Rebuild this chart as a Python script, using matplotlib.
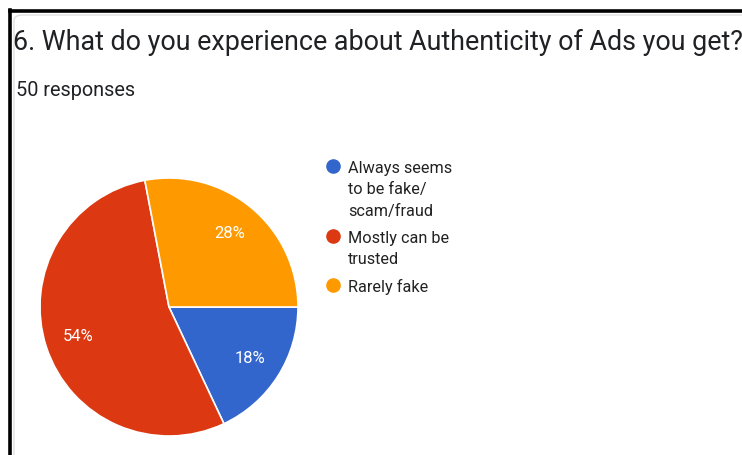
import matplotlib.pyplot as plt
from matplotlib.lines import Line2D
from matplotlib.patches import FancyBboxPatch

plt.rcParams["font.family"] = ["Roboto", "DejaVu Sans"]

# survey answers, in drawing order (clockwise from 3 o'clock)
labels = ["Always seems\nto be fake/\nscam/fraud", "Mostly can be\ntrusted", "Rarely fake"]
shares = [18, 54, 28]
colors = ["#3366CC", "#DC3912", "#FF9900"]

title = "6. What do you experience about Authenticity of Ads you get?"
subtitle = "50 responses"

W, H = 742, 455
fig = plt.figure(figsize=(W / 100, H / 100), dpi=100)
fig.patch.set_facecolor("white")


def px(x, y):
    """pixel coords (top-left origin) -> figure fraction"""
    return x / W, 1 - y / H


# card outline + black frame
card = FancyBboxPatch((14 / W, -0.1), 1.2, 1.1 - 15 / H,
                      boxstyle="round,pad=0,rounding_size=0.012",
                      transform=fig.transFigure, facecolor="white",
                      edgecolor="#e0e0e0", linewidth=1.0, zorder=-5)
fig.add_artist(card)
fig.add_artist(Line2D([10 / W, 10 / W], [0, 1 - 10 / H], color="black", lw=2.6,
                      transform=fig.transFigure))
fig.add_artist(Line2D([10 / W, 1.0], [1 - 11 / H, 1 - 11 / H], color="black", lw=2.6,
                      transform=fig.transFigure))

# header
fig.text(*px(13, 42), title, fontsize=19.4, color="#202124", va="center", ha="left")
fig.text(*px(16, 90), subtitle, fontsize=14.3, color="#202124", va="center", ha="left")

# pie
cx, cy, r = 169, 307, 129
ax = fig.add_axes([(cx - r) / W, (H - cy - r) / H, 2 * r / W, 2 * r / H])
wedges, _, autotexts = ax.pie(
    shares, colors=colors, startangle=0, counterclock=False,
    autopct="%d%%", pctdistance=0.74,
    wedgeprops=dict(edgecolor="white", linewidth=1.2),
    textprops=dict(color="white", fontsize=12),
)
ax.set_aspect("equal")
ax.set_xlim(-1, 1)
ax.set_ylim(-1, 1)

# legend, one dot per entry aligned with its first text line
line_h = 21.5
gap = 5.5
y = 166
for lab, col in zip(labels, colors):
    fig.add_artist(Line2D([333 / W], [1 - y / H], marker="o", markersize=9.5,
                          color=col, transform=fig.transFigure))
    n = lab.count("\n") + 1
    fig.text(348 / W, 1 - (y - 5.5) / H, lab, fontsize=11.7, color="#222222",
             va="top", ha="left", linespacing=1.55)
    y += n * line_h + gap

fig.savefig("out.png", dpi=100, facecolor="white")
